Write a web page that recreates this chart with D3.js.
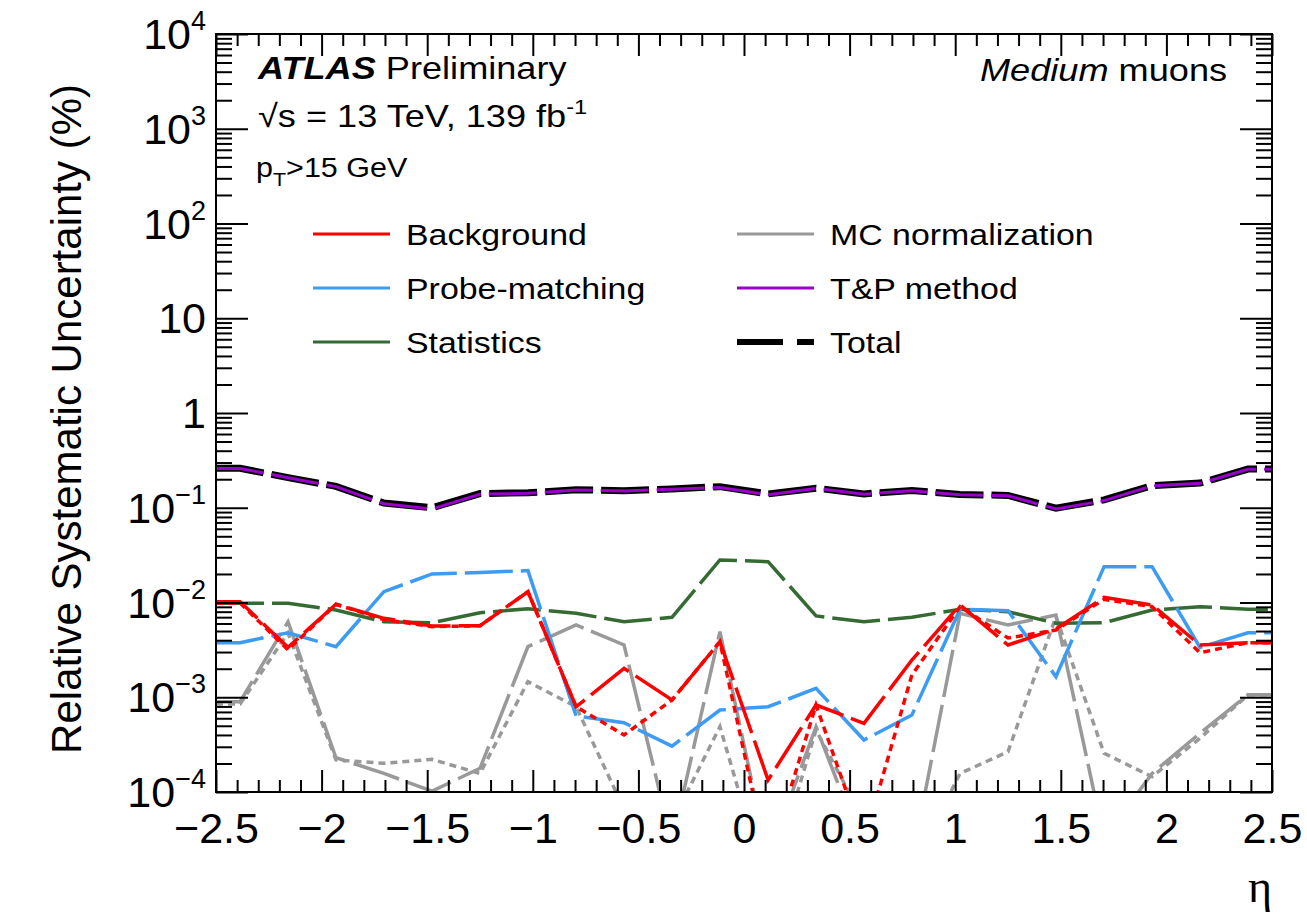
<!DOCTYPE html>
<html>
  <head>
    <meta charset="utf-8">
    <title></title>
    <script type="text/javascript" src="https://d3js.org/d3.v7.min.js"></script>
    <style media="screen">
      body { margin: 0; background: #fff; }
      text { font-family: "Liberation Sans", Arial, Helvetica, sans-serif; fill: #000; }
      .tick line { stroke: #000; stroke-width: 2; }
    </style>
  </head>
  <body>

    <script type="text/javascript">

      // eta bin centres (22 bins between -2.5 and 2.5)
      var etaCenters = [-2.386, -2.159, -1.932, -1.705, -1.477, -1.250, -1.023, -0.795, -0.568, -0.341, -0.114,
                         0.114,  0.341,  0.568,  0.795,  1.023,  1.250,  1.477,  1.705,  1.932,  2.159,  2.386];

      // relative systematic uncertainty (%) per bin
      var background = [0.0102, 0.00336, 0.00957, 0.00681, 0.00565, 0.00569, 0.0130, 0.000794, 0.00202, 0.000935, 0.00386,
                        0.000134, 0.000828, 0.000531, 0.00247, 0.00942, 0.00356, 0.00525, 0.01135, 0.00942, 0.00356, 0.00377];
      var backgroundAlt = [0.0099, 0.00316, 0.00957, 0.0066, 0.00556, 0.00569, 0.0130, 0.000794, 0.0004, 0.000935, 0.00386,
                           0.000018, 0.000828, 0.00003, 0.00172, 0.00904, 0.00422, 0.00513, 0.0108, 0.00904, 0.00295, 0.00377];
      var probeMatching = [0.00377, 0.0048, 0.00342, 0.0130, 0.0200, 0.0207, 0.0217, 0.000634, 0.000538, 0.000305, 0.000733,
                           0.000794, 0.00124, 0.000354, 0.00065, 0.00848, 0.00818, 0.00165, 0.0239, 0.0239, 0.00336, 0.0048];
      var statistics = [0.0098, 0.0098, 0.00834, 0.00626, 0.00612, 0.0078, 0.0086, 0.00769, 0.00626, 0.00698, 0.0281,
                        0.0270, 0.00721, 0.00626, 0.00698, 0.00848, 0.0080, 0.00603, 0.00612, 0.00834, 0.00904, 0.00848];
      var mcNorm = [0.000897, 0.00626, 0.00023, 0.000157, 0.000102, 0.000178, 0.00342, 0.00579, 0.00356, 0.000029, 0.00492,
                    0.00002, 0.000489, 0.000024, 0.000019, 0.00769, 0.00579, 0.00738, 0.000032, 0.000157, 0.000417, 0.00106];
      var mcNormAlt = [0.00085, 0.00477, 0.000218, 0.000201, 0.000221, 0.000157, 0.00146, 0.000794, 0.000066, 0.000048, 0.000489,
                       0.000009, 0.000451, 0.00005, 0.0000155, 0.000157, 0.000266, 0.00708, 0.000256, 0.000145, 0.000369, 0.00106];
      var tpMethod = [0.260, 0.207, 0.167, 0.110, 0.097, 0.139, 0.142, 0.154, 0.150, 0.157, 0.164,
                      0.137, 0.160, 0.139, 0.151, 0.137, 0.134, 0.097, 0.119, 0.170, 0.181, 0.255];
      var total = [0.261, 0.208, 0.168, 0.112, 0.100, 0.141, 0.144, 0.155, 0.151, 0.158, 0.167,
                   0.140, 0.161, 0.140, 0.152, 0.138, 0.135, 0.099, 0.121, 0.171, 0.182, 0.256];

      var xMajorTicks = [-2.5, -2, -1.5, -1, -0.5, 0, 0.5, 1, 1.5, 2, 2.5];
      var yMajorTicks = [1e-4, 1e-3, 1e-2, 1e-1, 1, 10, 100, 1e3, 1e4];
      var yTickBase = ["10", "10", "10", "10", "1", "10", "10", "10", "10"];
      var yTickExp = ["\u22124", "\u22123", "\u22122", "\u22121", "", "", "2", "3", "4"];

      var legendNames = ["Background", "Probe-matching", "Statistics", "MC normalization", "T&P method", "Total"];
      var legendColors = ["#ff0000", "#3e9bf4", "#356b33", "#999999", "#9900cc", "#000000"];

      var w = 1307;
      var h = 917;
      var x0 = 216, x1 = 1272, y0 = 34, y1 = 792;

      var xscale = d3.scaleLinear()
        .domain([-2.5, 2.5])
        .range([x0, x1]);

      var yscale = d3.scaleLog()
        .domain([1e-4, 1e4])
        .range([y1, y0]);

      var svg = d3.select('body')
        .append('svg')
        .attr('width', w)
        .attr('height', h)
        .style('background', '#fff');

      svg.append('clipPath')
        .attr('id', 'frame')
        .append('rect')
        .attr('x', x0)
        .attr('y', y0)
        .attr('width', x1 - x0)
        .attr('height', y1 - y0);

      // histogram line: flat from the edge to the first/last bin centre
      function points(vals) {
        var pts = [{x: -2.5, v: vals[0]}];
        for (var i = 0; i < vals.length; i++) {
          pts.push({x: etaCenters[i], v: vals[i]});
        }
        pts.push({x: 2.5, v: vals[vals.length - 1]});
        return pts;
      }

      var line = d3.line()
        .x(function(d) { return xscale(d.x); })
        .y(function(d) { return yscale(d.v); });

      var curves = svg.append('g').attr('clip-path', 'url(#frame)');

      var series = [
        {vals: total, color: '#000000', width: 7, dash: '48,8'},
        {vals: tpMethod, color: '#9900cc', width: 3, dash: '48,8'},
        {vals: mcNorm, color: '#999999', width: 3.5, dash: '48,8'},
        {vals: mcNormAlt, color: '#999999', width: 3.5, dash: '7,5'},
        {vals: statistics, color: '#356b33', width: 3.5, dash: '48,8'},
        {vals: probeMatching, color: '#3e9bf4', width: 3.5, dash: '48,8'},
        {vals: background, color: '#ff0000', width: 3.5, dash: '48,8'},
        {vals: backgroundAlt, color: '#ff0000', width: 3.5, dash: '7,5'}
      ];

      curves.selectAll('path')
        .data(series)
        .enter()
        .append('path')
        .attr('d', function(d) { return line(points(d.vals)); })
        .attr('fill', 'none')
        .attr('stroke', function(d) { return d.color; })
        .attr('stroke-width', function(d) { return d.width; })
        .attr('stroke-dasharray', function(d) { return d.dash; });

      // axes, ticks inside on all four sides
      var xMinor = xscale.ticks(50).filter(function(t) { return xMajorTicks.indexOf(Math.round(t * 10) / 10) < 0; });
      var yMinor = yscale.ticks().filter(function(t) { return yMajorTicks.indexOf(t) < 0; });

      var xFormat = function(d) { return (d < 0 ? '\u2212' : '') + Math.abs(d); };

      svg.append('g')
        .attr('class', 'x axis')
        .attr('transform', 'translate(0,' + y1 + ')')
        .call(d3.axisBottom(xscale).tickValues(xMajorTicks).tickSize(-22).tickPadding(20).tickFormat(xFormat))
        .call(function(g) { g.select('.domain').remove(); })
        .selectAll('text')
        .style('font-size', '43px');

      svg.append('g')
        .attr('transform', 'translate(0,' + y1 + ')')
        .call(d3.axisBottom(xscale).tickValues(xMinor).tickSize(-12).tickFormat(''))
        .call(function(g) { g.select('.domain').remove(); });

      svg.append('g')
        .attr('transform', 'translate(0,' + y0 + ')')
        .call(d3.axisTop(xscale).tickValues(xMajorTicks).tickSize(-22).tickFormat(''))
        .call(function(g) { g.select('.domain').remove(); });

      svg.append('g')
        .attr('transform', 'translate(0,' + y0 + ')')
        .call(d3.axisTop(xscale).tickValues(xMinor).tickSize(-12).tickFormat(''))
        .call(function(g) { g.select('.domain').remove(); });

      svg.append('g')
        .attr('transform', 'translate(' + x0 + ',0)')
        .call(d3.axisLeft(yscale).tickValues(yMajorTicks).tickSize(-32).tickFormat(''))
        .call(function(g) { g.select('.domain').remove(); });

      svg.append('g')
        .attr('transform', 'translate(' + x0 + ',0)')
        .call(d3.axisLeft(yscale).tickValues(yMinor).tickSize(-16).tickFormat(''))
        .call(function(g) { g.select('.domain').remove(); });

      svg.append('g')
        .attr('transform', 'translate(' + x1 + ',0)')
        .call(d3.axisRight(yscale).tickValues(yMajorTicks).tickSize(-32).tickFormat(''))
        .call(function(g) { g.select('.domain').remove(); });

      svg.append('g')
        .attr('transform', 'translate(' + x1 + ',0)')
        .call(d3.axisRight(yscale).tickValues(yMinor).tickSize(-16).tickFormat(''))
        .call(function(g) { g.select('.domain').remove(); });

      svg.append('rect')
        .attr('x', x0)
        .attr('y', y0)
        .attr('width', x1 - x0)
        .attr('height', y1 - y0)
        .attr('fill', 'none')
        .attr('stroke', '#000')
        .attr('stroke-width', 2);

      // y tick labels with exponents
      var ylab = svg.selectAll('.ylab')
        .data(yMajorTicks)
        .enter()
        .append('text')
        .attr('class', 'ylab')
        .attr('x', 206)
        .attr('y', function(d) { return yscale(d) + 15; })
        .attr('text-anchor', 'end')
        .style('font-size', '43px');
      ylab.append('tspan')
        .text(function(d, i) { return yTickBase[i]; });
      ylab.append('tspan')
        .attr('dy', -19)
        .style('font-size', '27px')
        .text(function(d, i) { return yTickExp[i]; });

      // axis titles
      svg.append('text')
        .attr('transform', 'translate(81,84)rotate(-90)')
        .attr('text-anchor', 'end')
        .style('font-size', '42px')
        .text('Relative Systematic Uncertainty (%)');

      svg.append('text')
        .attr('x', 1272)
        .attr('y', 902)
        .attr('text-anchor', 'end')
        .style('font-family', '"Liberation Serif", "DejaVu Serif", serif')
        .style('font-size', '46px')
        .text('\u03b7');

      // labels, slightly wide like the ROOT rendering
      var sx = 1.13;
      function note(x, y, size) {
        return svg.append('text')
          .attr('transform', 'translate(' + x + ',' + y + ')scale(' + sx + ',1)')
          .style('font-size', size + 'px');
      }

      var t1 = note(258, 79, 32);
      t1.append('tspan').style('font-weight', 'bold').style('font-style', 'italic').text('ATLAS');
      t1.append('tspan').text(' Preliminary');

      var t2 = note(258, 127, 32);
      t2.append('tspan').text('\u221as = 13 TeV, 139 fb');
      t2.append('tspan').attr('dy', -13).style('font-size', '21px').text('-1');

      var t3 = note(256, 177, 27);
      t3.append('tspan').text('p');
      t3.append('tspan').attr('dy', 9).style('font-size', '19px').text('T');
      t3.append('tspan').attr('dy', -9).text('>15 GeV');

      var t4 = note(980, 81, 32);
      t4.append('tspan').style('font-style', 'italic').text('Medium');
      t4.append('tspan').text(' muons');

      // legend
      var legend = svg.selectAll('.legend')
        .data(legendNames)
        .enter()
        .append('g')
        .attr('class', 'legend')
        .attr('transform', function(d, i) {
          return 'translate(' + (i < 3 ? 313 : 737) + ',' + (234 + (i % 3) * 54) + ')';
        });

      legend.append('line')
        .attr('x1', 0)
        .attr('x2', 77)
        .attr('stroke', function(d, i) { return legendColors[i]; })
        .attr('stroke-width', function(d, i) { return i == 5 ? 6 : 3; })
        .attr('stroke-dasharray', function(d, i) { return i == 5 ? '46,14' : null; });

      legend.append('text')
        .attr('transform', 'translate(93,11)scale(' + sx + ',1)')
        .style('font-size', '30px')
        .text(function(d) { return d; });

    </script>

  </body>
</html>
